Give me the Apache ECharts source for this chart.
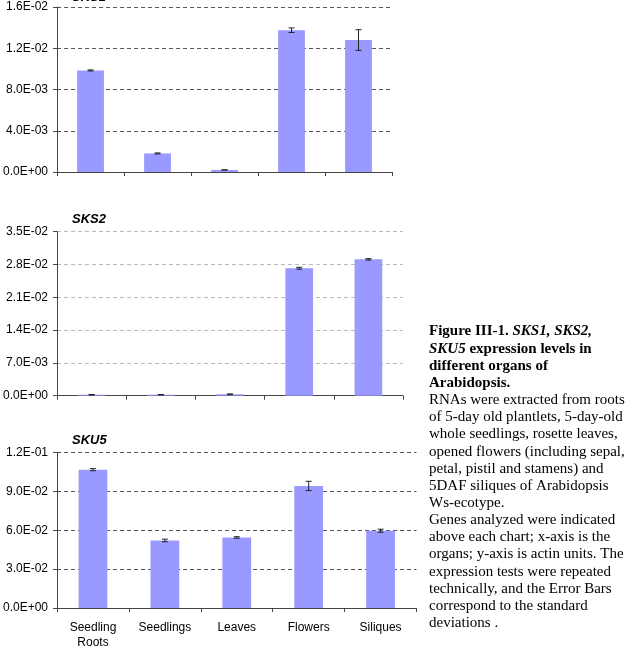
<!DOCTYPE html>
<html>
<head>
<meta charset="utf-8">
<script src="https://cdn.jsdelivr.net/npm/echarts@6/dist/echarts.min.js"></script>
<style>
html,body{margin:0;padding:0;background:#fff;}
#c{width:632px;height:650px;}
</style>
</head>
<body>
<div id="c"></div>
<script>
const categories = ['Seedling\nRoots', 'Seedlings', 'Leaves', 'Flowers', 'Siliques'];

const sks1Values = [0.00985, 0.0018, 0.0002, 0.01375, 0.0128];
const sks1Errors = [0.00005, 0.00005, 0.00001, 0.00022, 0.001];
const sks1Ticks = ['0.0E+00', '4.0E-03', '8.0E-03', '1.2E-02', '1.6E-02'];

const sks2Values = [0.0002, 0.0002, 0.0003, 0.0272, 0.0291];
const sks2Errors = [0.00005, 0.00005, 0.00008, 0.0002, 0.00015];
const sks2Ticks = ['0.0E+00', '7.0E-03', '1.4E-02', '2.1E-02', '2.8E-02', '3.5E-02'];

const sku5Values = [0.1069, 0.0522, 0.0545, 0.0943, 0.0597];
const sku5Errors = [0.0008, 0.001, 0.0006, 0.0036, 0.0012];
const sku5Ticks = ['0.0E+00', '3.0E-02', '6.0E-02', '9.0E-02', '1.2E-01'];

const titles = ['SKS1', 'SKS2', 'SKU5'];

const chart = echarts.init(document.getElementById('c'), null, {renderer: 'canvas'});

const sans = 'Liberation Sans, Arial, sans-serif';
const barColor = '#9999ff';

const panels = [
  {vals: sks1Values, errs: sks1Errors, ticks: sks1Ticks, max: 0.016, interval: 0.004,
   grid: {left: 54, top: 7, width: 338, height: 165}, grid_color: '#555', showX: false, titleTop: -9.5},
  {vals: sks2Values, errs: sks2Errors, ticks: sks2Ticks, max: 0.035, interval: 0.007,
   grid: {left: 54, top: 231.7, width: 349, height: 164}, grid_color: '#bbb', showX: false, titleTop: 212.5},
  {vals: sku5Values, errs: sku5Errors, ticks: sku5Ticks, max: 0.12, interval: 0.03,
   grid: {left: 54, top: 452.7, width: 362.5, height: 161.6}, grid_color: '#555', showX: true, titleTop: 433.5}
];

const grid = [], xAxis = [], yAxis = [], series = [], title = [];

panels.forEach((p, k) => {
  grid.push(Object.assign({containLabel: false}, p.grid));
  title.push({
    text: titles[k], left: 72, top: p.titleTop, padding: 0,
    textStyle: {fontFamily: sans, fontSize: 13, fontWeight: 'bold', fontStyle: 'italic', color: '#000'}
  });
  xAxis.push({
    type: 'category', gridIndex: k, data: categories, boundaryGap: true,
    axisLine: {show: true, lineStyle: {color: '#444', width: 1}},
    axisTick: {show: true, length: 4, alignWithLabel: false, lineStyle: {color: '#444'}},
    axisLabel: {show: p.showX, interval: 0, color: '#000', fontFamily: sans, fontSize: 12, margin: 12, lineHeight: 15},
    splitLine: {show: false}
  });
  const ticks = p.ticks;
  yAxis.push({
    type: 'value', gridIndex: k, min: 0, max: p.max, interval: p.interval,
    axisLine: {show: true, lineStyle: {color: '#444', width: 1}},
    axisTick: {show: true, length: 4, inside: false, lineStyle: {color: '#444'}},
    axisLabel: {color: '#000', fontFamily: sans, fontSize: 12, margin: 9,
      formatter: function (v, i) { return ticks[i] !== undefined ? ticks[i] : ''; }},
    splitLine: {show: true, lineStyle: {color: p.grid_color, type: [4, 3], width: 1}}
  });
  series.push({
    type: 'bar', xAxisIndex: k, yAxisIndex: k, data: p.vals, barWidth: '40%',
    itemStyle: {color: barColor}, silent: true, animation: false
  });
  series.push({
    type: 'custom', xAxisIndex: k, yAxisIndex: k, z: 5, animation: false, silent: true,
    data: p.vals.map((v, i) => [i, v, p.errs[i]]),
    renderItem: function (params, api) {
      const x = api.value(0), v = api.value(1), e = api.value(2);
      const hi = api.coord([x, v + e]);
      const lo = api.coord([x, v - e]);
      const w = 3;
      const st = {stroke: '#222', lineWidth: 1};
      return {type: 'group', children: [
        {type: 'line', shape: {x1: hi[0], y1: hi[1], x2: lo[0], y2: lo[1]}, style: st},
        {type: 'line', shape: {x1: hi[0] - w, y1: hi[1], x2: hi[0] + w, y2: hi[1]}, style: st},
        {type: 'line', shape: {x1: lo[0] - w, y1: lo[1], x2: lo[0] + w, y2: lo[1]}, style: st}
      ]};
    }
  });
});

const captionText =
  '{b|Figure III-1. }{bi|SKS1, SKS2,}\n' +
  '{bi|SKU5}{b| expression levels in}\n' +
  '{b|different organs of}\n' +
  '{b|Arabidopsis.}\n' +
  '{n|RNAs were extracted from roots}\n' +
  '{n|of 5-day old plantlets, 5-day-old}\n' +
  '{n|whole seedlings, rosette leaves,}\n' +
  '{n|opened flowers (including sepal,}\n' +
  '{n|petal, pistil and stamens) and}\n' +
  '{n|5DAF siliques of Arabidopsis}\n' +
  '{n|Ws-ecotype.}\n' +
  '{n|Genes analyzed were indicated}\n' +
  '{n|above each chart; x-axis is the}\n' +
  '{n|organs; y-axis is actin units. The}\n' +
  '{n|expression tests were repeated}\n' +
  '{n|technically, and the Error Bars}\n' +
  '{n|correspond to the standard}\n' +
  '{n|deviations .}';

const serif = 'Liberation Serif, Times New Roman, serif';
const fs = 15, lh = 17.15;

chart.setOption({
  animation: false,
  backgroundColor: '#fff',
  title: title,
  grid: grid,
  xAxis: xAxis,
  yAxis: yAxis,
  series: series,
  graphic: [{
    type: 'text', left: 429, top: 323,
    style: {
      text: captionText,
      fill: '#000',
      font: fs + 'px ' + serif,
      lineHeight: lh,
      rich: {
        b: {fontFamily: serif, fontSize: fs, fontWeight: 'bold', lineHeight: lh, fill: '#000'},
        bi: {fontFamily: serif, fontSize: fs, fontWeight: 'bold', fontStyle: 'italic', lineHeight: lh, fill: '#000'},
        n: {fontFamily: serif, fontSize: fs, lineHeight: lh, fill: '#000'}
      }
    }
  }]
});
</script>
</body>
</html>
